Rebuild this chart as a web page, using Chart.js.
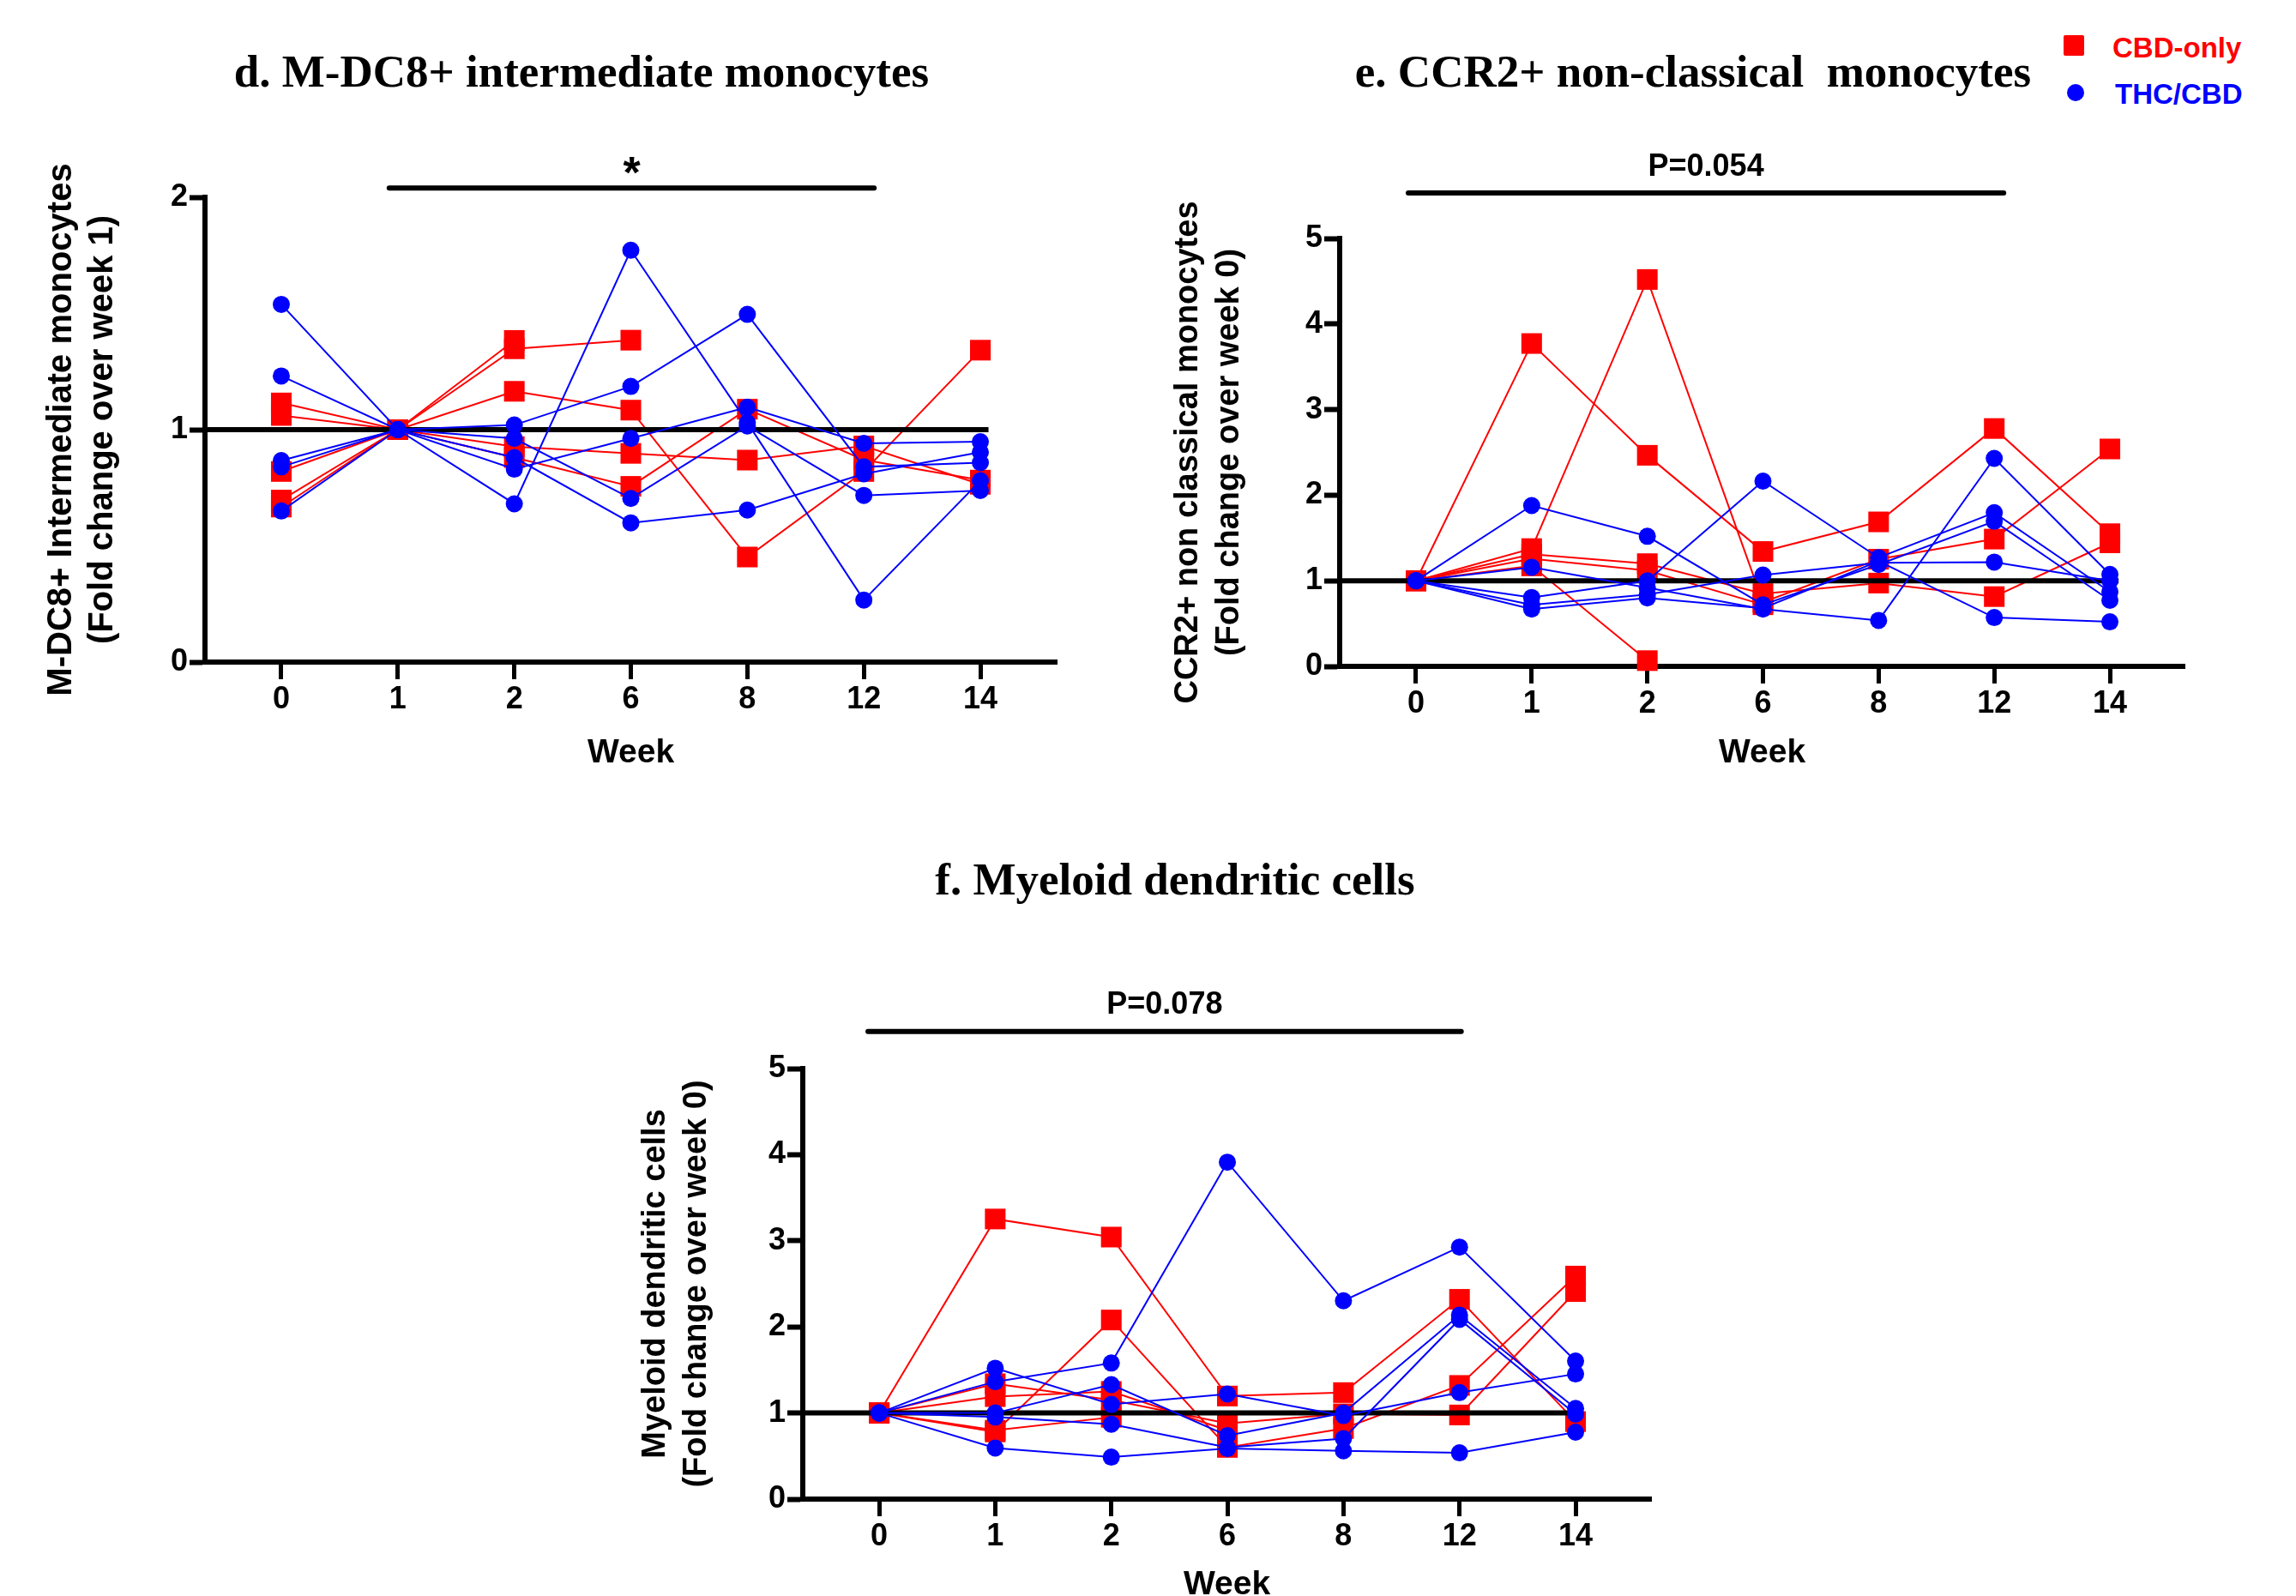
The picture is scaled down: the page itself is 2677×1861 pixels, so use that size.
<!DOCTYPE html>
<html>
<head>
<meta charset="utf-8">
<script src="https://cdn.jsdelivr.net/npm/chart.js@4.4.1/dist/chart.umd.min.js"></script>
<style>
  html, body { margin: 0; padding: 0; background: #fff; overflow: hidden; }
  body { width: 2677px; height: 1861px; position: relative; }
  canvas { position: absolute; }
  .title { position: absolute; transform: translateX(-50%); white-space: pre; color: #000;
           font: bold 53px "Liberation Serif", "Times New Roman", serif; line-height: 53px; }
  .leg { position: absolute; white-space: nowrap; font: bold 33px "Liberation Sans", Arial, sans-serif; line-height: 33px; }
  .sq { position: absolute; width: 24px; height: 24px; background: #ff0000; border-radius: 2px; }
  .dot { position: absolute; width: 20px; height: 20px; background: #0000ff; border-radius: 50%; }
</style>
</head>
<body>
<div class="title" style="left:678px; top:57px;">d. M-DC8+ intermediate monocytes</div>
<div class="title" style="left:1974px; top:57px;">e. CCR2+ non-classical  monocytes</div>
<div class="title" style="left:1370px; top:999px;">f. Myeloid dendritic cells</div>

<div class="sq" style="left:2406px; top:41px;"></div>
<div class="leg" style="left:2463px; top:39px; color:#ff0000;">CBD-only</div>
<div class="dot" style="left:2410px; top:98px;"></div>
<div class="leg" style="left:2466px; top:93px; color:#0000ff;">THC/CBD</div>

<canvas id="cd" width="1230" height="760" style="left:40px; top:150px;"></canvas>
<canvas id="ce" width="1240" height="760" style="left:1330px; top:150px;"></canvas>
<canvas id="cf" width="1250" height="800" style="left:700px; top:1100px;"></canvas>

<script>
// week labels on the x axis (categories, plotted at index 0..6)
const WEEKS = ['0', '1', '2', '6', '8', '12', '14'];
const REF = 1;
const D_YTICKS = [0, 1, 2];
const EF_YTICKS = [0, 1, 2, 3, 4, 5];

// d. M-DC8+ intermediate monocytes, fold change over week 1 (one row per subject)
const D_CBD = [
  [1.115, 1, 1.384, null, null, null, null],
  [1.061, 1, 1.348, 1.385, null, null, null],
  [0.82, 1, 1.165, 1.084, 0.452, 0.82, 1.342],
  [0.697, 1, 0.927, 0.898, 0.869, 0.93, 0.765],
  [0.667, 1, 0.88, 0.756, 1.088, 0.87, 0.783]
];
const D_THC = [
  [1.539, 1, 0.681, 1.772, 1.03, 0.267, 0.78],
  [1.231, 1, 1.02, 1.186, 1.496, 0.84, 0.858],
  [0.867, 1, 0.962, 0.704, 1.016, 0.717, 0.738],
  [0.84, 1, 0.83, 0.962, 1.097, 0.941, 0.948],
  [0.65, 1, 0.88, 0.599, 0.654, 0.81, 0.903]
];

// e. CCR2+ non-classical monocytes, fold change over week 0
const E_CBD = [
  [1, 3.772, 2.466, 1.342, 1.688, 2.779, 1.55],
  [1, 1.376, 4.52, 0.75, 1.252, 1.487, 2.54],
  [1, 1.174, 0.067, null, null, null, null],
  [1, 1.309, 1.2, 0.85, 0.973, 0.815, 1.443],
  [1, 1.258, 1.12, 0.72, null, null, null]
];
const E_THC = [
  [1, 1.879, 1.52, 0.72, 1.19, 1.695, 0.772],
  [1, 0.805, 1.0, 2.164, 1.27, 1.795, 0.872],
  [1, 1.158, 0.92, 0.67, 0.537, 2.43, 1.074],
  [1, 0.72, 0.84, 1.067, 1.21, 1.218, 1.0],
  [1, 0.67, 0.8, 0.68, 1.23, 0.57, 0.52]
];

// f. Myeloid dendritic cells, fold change over week 0
const F_CBD = [
  [1, 3.253, 3.043, 1.197, 1.237, 2.32, 0.9],
  [1, 0.78, 2.08, 0.6, 0.82, 1.32, 2.59],
  [1, 1.34, 1.15, 0.88, 0.99, 0.977, 2.41],
  [1, 1.19, 1.25, 0.8, null, null, null],
  [1, 0.8, 0.95, null, null, null, null]
];
const F_THC = [
  [1, 1.363, 1.58, 3.913, 2.303, 2.927, 1.603],
  [1, 1.52, 1.1, 1.22, 0.97, 1.237, 1.453],
  [1, 0.953, 0.87, 0.6, 0.703, 2.087, 0.987],
  [1, 0.593, 0.487, 0.587, 0.56, 0.537, 0.777],
  [1, 1.0, 1.33, 0.737, 1.0, 2.137, 1.053]
];

const SANS = '"Liberation Sans", Arial, sans-serif';
const RED = '#ff0000';
const BLUE = '#0000ff';

// significance bar + label above the plot
const sigBar = {
  id: 'sigBar',
  afterDraw(chart, args, o) {
    const {ctx, scales: {x, y}} = chart;
    const x0 = x.getPixelForValue(o.from) - o.padL;
    const x1 = x.getPixelForValue(o.to) + o.padR;
    const yb = y.getPixelForValue(o.at);
    ctx.save();
    ctx.strokeStyle = '#000';
    ctx.lineWidth = 6;
    ctx.lineCap = 'round';
    ctx.beginPath();
    ctx.moveTo(x0, yb);
    ctx.lineTo(x1, yb);
    ctx.stroke();
    ctx.fillStyle = '#000';
    ctx.font = 'bold ' + o.size + 'px ' + SANS;
    ctx.textAlign = 'center';
    ctx.textBaseline = 'alphabetic';
    ctx.fillText(o.label, (x0 + x1) / 2, yb - o.lift);
    ctx.restore();
  }
};

function subjects(rows, color, style, radius, order) {
  return rows.map(row => ({
    data: row.map((v, i) => ({x: i, y: v})),
    showLine: true,
    borderColor: color,
    backgroundColor: color,
    borderWidth: 2,
    pointStyle: style,
    pointRadius: radius,
    pointBorderWidth: 0,
    order: order,
    clip: false
  }));
}

function panel(p) {
  const refLine = {
    data: [{x: p.xMin, y: REF}, {x: p.refEnd, y: REF}],
    showLine: true,
    borderColor: '#000',
    borderWidth: 6,
    pointRadius: 0,
    order: 1,
    clip: false
  };
  new Chart(document.getElementById(p.id), {
    type: 'scatter',
    data: {
      datasets: [
        ...subjects(p.cbd, RED, 'rect', 17, 2),
        refLine,
        ...subjects(p.thc, BLUE, 'circle', 10, 0)
      ]
    },
    options: {
      responsive: false,
      animation: false,
      devicePixelRatio: 1,
      layout: {padding: {top: p.padTop, right: p.padRight, left: 0, bottom: 0}},
      plugins: {legend: {display: false}, tooltip: {enabled: false}, sigBar: p.sig},
      scales: {
        x: {
          type: 'linear',
          min: p.xMin,
          max: p.xMax,
          afterBuildTicks: a => { a.ticks = WEEKS.map((w, i) => ({value: i})); },
          afterFit: s => { s.height = p.xHeight; },
          ticks: {
            callback: v => WEEKS[v],
            color: '#000',
            padding: 2,
            font: {family: SANS, size: 36, weight: 'bold', lineHeight: 1.2}
          },
          grid: {display: true, drawOnChartArea: false, drawTicks: true, tickLength: 20, tickWidth: 5, tickColor: '#000'},
          border: {display: true, width: 6, color: '#000'},
          title: {
            display: true, text: 'Week', color: '#000',
            font: {family: SANS, size: 39, weight: 'bold', lineHeight: 1.2},
            padding: {top: 0, bottom: p.xTitlePad}
          }
        },
        y: {
          min: 0,
          max: p.yMax,
          afterBuildTicks: a => { a.ticks = p.yTicks.map(v => ({value: v})); },
          afterFit: s => { s.width = p.yWidth; },
          ticks: {
            callback: v => String(v),
            color: '#000',
            padding: 2,
            font: {family: SANS, size: 36, weight: 'bold'}
          },
          grid: {display: true, drawOnChartArea: false, drawTicks: true, tickLength: 18, tickWidth: 6, tickColor: '#000'},
          border: {display: true, width: 6, color: '#000'},
          title: {
            display: true, text: p.yTitle, color: '#000',
            font: {family: SANS, size: p.yTitleSize, weight: 'bold', lineHeight: 48 / p.yTitleSize},
            padding: {top: p.yTitlePad, bottom: 0}
          }
        }
      }
    },
    plugins: [sigBar]
  });
}

panel({
  id: 'cd', cbd: D_CBD, thc: D_THC, yMax: 2, yTicks: D_YTICKS,
  xMin: -0.655, xMax: 6.655, refEnd: 6.07,
  padTop: 80, padRight: 38, yWidth: 199, xHeight: 138, xTitlePad: 8,
  yTitle: ['M-DC8+ Intermediate monocytes', '(Fold change over week 1)'], yTitleSize: 40, yTitlePad: 8,
  sig: {from: 1, to: 5, at: 2.04, padL: 10, padR: 12, label: '*', size: 52, lift: 0}
});

panel({
  id: 'ce', cbd: E_CBD, thc: E_THC, yMax: 5, yTicks: EF_YTICKS,
  xMin: -0.66, xMax: 6.645, refEnd: 6.075,
  padTop: 128, padRight: 23, yWidth: 232, xHeight: 133, xTitlePad: 8,
  yTitle: ['CCR2+ non classical monocytes', '(Fold change over week 0)'], yTitleSize: 38, yTitlePad: 32,
  sig: {from: 0, to: 5, at: 5.53, padL: 9, padR: 11, label: 'P=0.054', size: 36, lift: 20}
});

panel({
  id: 'cf', cbd: F_CBD, thc: F_THC, yMax: 5, yTicks: EF_YTICKS,
  xMin: -0.658, xMax: 6.65, refEnd: 6.05,
  padTop: 146, padRight: 25, yWidth: 236, xHeight: 152, xTitlePad: 28,
  yTitle: ['Myeloid dendritic cells', '(Fold change over week 0)'], yTitleSize: 38, yTitlePad: 41,
  sig: {from: 0, to: 5, at: 5.43, padL: 13, padR: 2, label: 'P=0.078', size: 36, lift: 21}
});
</script>
</body>
</html>
